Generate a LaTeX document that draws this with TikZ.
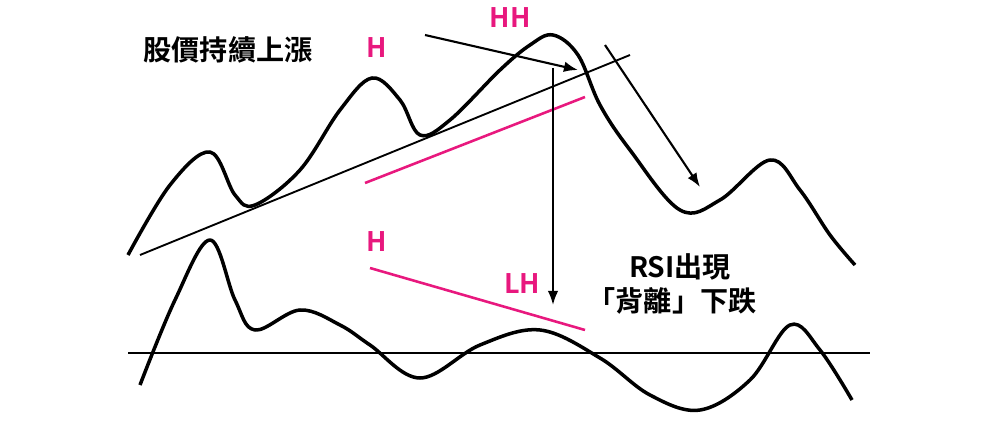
\documentclass[tikz,border=0pt]{standalone}
\usepackage{fontspec}
\setmainfont{Noto Sans CJK TC}[BoldFont={* Bold}]
\usetikzlibrary{arrows.meta}
\definecolor{pk}{HTML}{E8187E}
\begin{document}
\begin{tikzpicture}[x=0.03cm,y=-0.03cm,
  curve/.style={line width=3pt,black,line join=round},
  pkline/.style={pk,line width=2.2pt},
  arr/.style={black,line width=1.8pt,-{Latex[length=12pt,width=9pt]}},
  pl/.style={pk,font=\bfseries\fontsize{23}{26}\selectfont},
  bl/.style={black,font=\bfseries\fontsize{24}{28}\selectfont}]
\useasboundingbox (0,0) rectangle (1000,423);
\draw[curve] plot[smooth,tension=0.6] coordinates {(128,255) (170,185) (210,152) (235,195) (255,205) (300,170) (340,110) (372,78) (400,100) (420,135) (450,120) (500,70) (530,45) (553,35) (578,55) (600,105) (630,150) (680,210) (720,200) (770,160) (800,190) (830,235) (855,265)};
\draw[curve] plot[smooth,tension=0.6] coordinates {(140,385) (175,300) (210,240) (235,300) (255,330) (300,310) (340,325) (370,345) (420,378) (480,345) (540,330) (600,358) (650,395) (700,410) (750,380) (790,325) (820,350) (852,400)};
\draw[line width=1.4pt] (128,353) coordinate(ha) -- (870,353) coordinate(hb);
\draw[line width=1.6pt] (140,255) coordinate(ta) -- (630,55) coordinate(tb);
\draw[pkline] (365,183) coordinate(p1) -- (585,97) coordinate(p2);
\draw[pkline] (370,268) coordinate(p3) -- (585,330) coordinate(p4);
\coordinate (a1) at (425,35); \coordinate (a2) at (578,70);
\draw[arr] (a1) -- (a2);
\coordinate (v1) at (553,68); \coordinate (v2) at (553,305);
\draw[arr] (v1) -- (v2);
\coordinate (d1) at (605,45); \coordinate (d2) at (700,187);
\draw[arr] (d1) -- (d2);
\node[bl] (t1) at (228,50) {股價持續上漲};
\node[pl] (h1) at (377,48) {H};
\node[pl] (hh) at (510,18) {HH};
\node[pl] (h2) at (377,242) {H};
\node[pl] (lh) at (522,284) {LH};
\node[bl] (r1) at (680,267) {RSI出現};
\node[bl] (r2) at (672,301) {「背離」下跌};
\end{tikzpicture}
\end{document}
